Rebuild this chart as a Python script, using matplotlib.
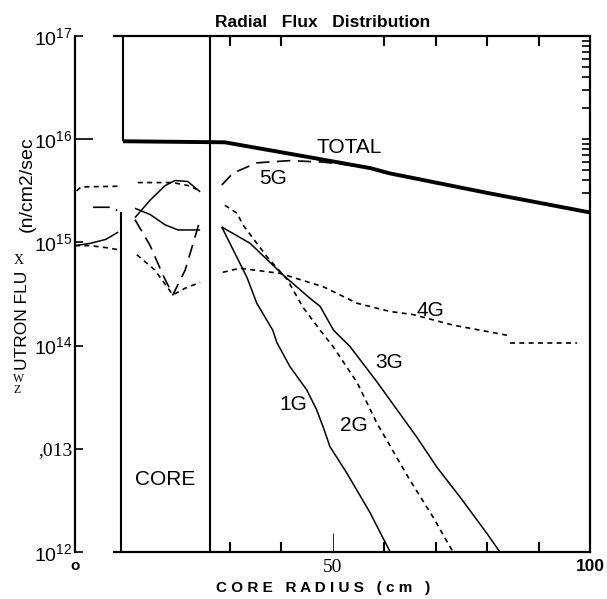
import matplotlib
matplotlib.use("Agg")
import matplotlib.pyplot as plt

plt.rcParams["font.family"] = ["Liberation Sans", "DejaVu Sans"]
plt.rcParams["mathtext.fontset"] = "custom"
plt.rcParams["mathtext.rm"] = "Liberation Sans"

# ---------------------------------------------------------------------
# Data (radius in cm, flux in n/cm2/sec)
# ---------------------------------------------------------------------
total_x = [9.3, 29.1, 45.0, 57.3, 61.0, 80.0, 100.0]
total_y = [9.55e15, 9.33e15, 6.76e15, 5.25e15, 4.68e15, 3.02e15, 1.95e15]

g5_x = [28.5, 30.7, 35.3, 41.7, 48.2, 53.4, 57.3]
g5_y = [3.6e15, 4.7e15, 5.9e15, 6.2e15, 6.0e15, 5.6e15, 5.25e15]

g4_x = [28.7, 32.0, 39.8, 48.2, 54.8, 61.2, 65.6, 73.4, 83.9]
g4_y = [5.13e14, 5.62e14, 5.01e14, 3.72e14, 2.57e14, 2.14e14, 2.0e14, 1.58e14, 1.26e14]
g4_tail_x = [84.5, 97.5]
g4_tail_y = [1.07e14, 1.07e14]

g3_x = [28.5, 34.0, 40.5, 45.6, 47.6, 50.2, 53.4, 58.6, 66.4, 70.3, 74.8, 80.0, 82.5]
g3_y = [1.41e15, 9.8e14, 4.79e14, 2.88e14, 2.4e14, 1.41e14, 9.8e13, 4.47e13,
        1.29e13, 6.6e12, 3.39e12, 1.51e12, 1.0e12]

g2_x = [29.1, 31.5, 32.6, 37.3, 41.2, 44.3, 47.6, 50.1, 54.8, 58.6, 65.0, 69.5, 73.4]
g2_y = [2.29e15, 1.91e15, 1.48e15, 7.24e14, 4.37e14, 2.34e14, 1.41e14, 9.8e13,
        4.37e13, 1.78e13, 5.0e12, 2.19e12, 1.0e12]

g1_x = [28.5, 32.0, 33.4, 35.3, 38.4, 39.2, 41.7, 45.0, 46.9, 48.2, 49.5, 52.8, 57.3, 61.2]
g1_y = [1.41e15, 6.3e14, 4.57e14, 2.57e14, 1.41e14, 1.07e14, 6.3e13, 3.72e13,
        2.4e13, 1.62e13, 1.05e13, 5.8e12, 2.4e12, 1.0e12]

# inner region (0 - 9 cm)
in_dot_x = [0.3, 1.2, 8.4]
in_dot_y = [3.16e15, 3.45e15, 3.5e15]
in_dashdot_x = [3.5, 6.8, 8.2]
in_dashdot_y = [2.19e15, 2.19e15, 2.04e15]
in_solid_x = [0.0, 3.0, 6.0, 8.4]
in_solid_y = [9.3e14, 9.8e14, 1.07e15, 1.26e15]
in_dash_x = [0.0, 3.0, 6.0, 8.4]
in_dash_y = [9.3e14, 9.3e14, 8.9e14, 8.5e14]

# core region (11.5 - 24.5 cm)
c_dot_top_x = [12.2, 19.0, 22.0, 24.3]
c_dot_top_y = [3.8e15, 3.8e15, 3.55e15, 3.16e15]
c_solid_a_x = [11.65, 14.6, 17.5, 19.4, 21.9, 24.3]
c_solid_a_y = [1.74e15, 2.57e15, 3.55e15, 3.98e15, 3.89e15, 3.09e15]
c_solid_b_x = [11.65, 14.6, 17.5, 20.0, 24.3]
c_solid_b_y = [2.14e15, 1.86e15, 1.48e15, 1.32e15, 1.32e15]
c_vdash_x = [11.65, 14.6, 17.1, 19.0, 21.4, 24.3]
c_vdash_y = [1.66e15, 9.3e14, 4.8e14, 3.1e14, 5.4e14, 1.66e15]
c_dot_low_x = [12.0, 15.5, 19.0, 21.4, 24.3]
c_dot_low_y = [7.6e14, 5.4e14, 3.1e14, 3.6e14, 4.1e14]

# boundaries
box_x = 9.3
inner_edge_x = 8.9
inner_edge_top = 1.95e15
core_edge_x = 26.2

y_ticks = [1e12, 1e13, 1e14, 1e15, 1e16, 1e17]
y_tick_labels = [r"$\mathregular{10^{12}}$", ",013", r"$\mathregular{10^{14}}$",
                 r"$\mathregular{10^{15}}$", r"$\mathregular{10^{16}}$",
                 r"$\mathregular{10^{17}}$"]
x_ticks = [0, 50, 100]
x_tick_labels = ["o", "50", "100"]
x_minor = [30, 40, 60, 70, 80, 90]

curve_labels = [("TOTAL", 53.2, 8.3e15), ("5G", 38.4, 4.2e15), ("4G", 69.1, 2.2e14),
                ("3G", 61.0, 6.8e13), ("2G", 54.2, 1.7e13), ("1G", 42.3, 2.7e13),
                ("CORE", 17.5, 5.0e12)]

# ---------------------------------------------------------------------
fig = plt.figure(figsize=(6.07, 5.99), dpi=100)
ax = fig.add_axes([75 / 607, 1 - 552 / 599, 515 / 607, 516 / 599])
ax.set_yscale("log")
ax.set_xlim(0, 100)
ax.set_ylim(1e12, 1e17)

solid = dict(color="black", lw=1.1, solid_capstyle="butt")
longdash = dict(color="black", lw=1.2, linestyle=(0, (8, 4.5)))
shortdash = dict(color="black", lw=1.2, linestyle=(0, (3, 2.6)))

ax.plot(total_x, total_y, color="black", lw=2.8, solid_capstyle="butt")
ax.plot(g5_x, g5_y, **longdash)
ax.plot(g4_x, g4_y, **shortdash)
ax.plot(g4_tail_x, g4_tail_y, **shortdash)
ax.plot(g3_x, g3_y, **solid)
ax.plot(g2_x, g2_y, **shortdash)
ax.plot(g1_x, g1_y, **solid)

ax.plot(in_dot_x, in_dot_y, **shortdash)
ax.plot(in_dashdot_x, in_dashdot_y, color="black", lw=1.2, linestyle=(0, (10, 4, 1.5, 4)))
ax.plot(in_solid_x, in_solid_y, **solid)
ax.plot(in_dash_x, in_dash_y, **shortdash)

ax.plot(c_dot_top_x, c_dot_top_y, **shortdash)
ax.plot(c_solid_a_x, c_solid_a_y, **solid)
ax.plot(c_solid_b_x, c_solid_b_y, **solid)
ax.plot(c_vdash_x, c_vdash_y, **longdash)
ax.plot(c_dot_low_x, c_dot_low_y, **shortdash)

ax.vlines(box_x, total_y[0], 1e17, color="black", lw=1.5)
ax.vlines(inner_edge_x, 1e12, inner_edge_top, color="black", lw=1.5)
ax.vlines(core_edge_x, 1e12, 1e17, color="black", lw=1.5)

for text, x, y in curve_labels:
    ax.text(x, y, text, fontsize=15, ha="center", va="center")

# frame
for side in ["top", "bottom", "left", "right"]:
    ax.spines[side].set_linewidth(1.6)
ax.spines["top"].set_bounds(7.6, 100)
ax.spines["bottom"].set_bounds(7.6, 100)

ax.set_xticks(x_ticks)
ax.set_xticklabels(x_tick_labels)
ax.set_xticks(x_minor, minor=True)
ax.tick_params(axis="x", which="major", direction="in", length=0, pad=5)
ax.tick_params(axis="x", which="minor", direction="in", length=7, width=1.5,
               top=True, bottom=True)
xl = ax.get_xticklabels()
xl[0].set_fontsize(11)
xl[0].set_fontweight("bold")
xl[1].set_fontfamily("Liberation Serif")
xl[1].set_fontsize(14)
xl[2].set_fontweight("bold")
xl[2].set_fontsize(12.5)
t50 = ax.xaxis.get_major_ticks()[1]
t50.tick1line.set_markersize(14)
t50.tick1line.set_markeredgewidth(0.6)
t50.tick1line.set_color("0.55")

ax.set_yticks(y_ticks)
ax.set_yticklabels(y_tick_labels)
ax.yaxis.remove_overlapping_locs = False
ax.yaxis.set_minor_locator(matplotlib.ticker.FixedLocator(
    [m * 10 ** e for e in (15, 16) for m in range(2, 11)]))
ax.yaxis.set_minor_formatter(matplotlib.ticker.NullFormatter())
ax.tick_params(axis="y", which="major", direction="in", length=6, width=1.2,
               labelsize=14, pad=2, right=False)
ax.tick_params(axis="y", which="minor", direction="in", length=6, width=1.2,
               left=False, right=True)
yl = ax.get_yticklabels()
yl[1].set_fontfamily("Liberation Serif")
t16 = ax.yaxis.get_major_ticks()[4]
t16.tick1line.set_markersize(13)

# titles / axis labels
fig.text(0.532, 0.962, "Radial   Flux   Distribution", fontsize=12.5,
         fontweight="bold", ha="center", va="center")
fig.text(0.532, 0.018, "C O R E   R A D I U S   ( c m   )", fontsize=11,
         fontweight="bold", ha="center", va="center")

fig.text(27 / 607, 1 - 184 / 599, "(n/cm2/sec", fontsize=14, rotation=90,
         ha="center", va="center")
fig.text(23 / 607, 1 - 320 / 599, "UTRON FLU", fontsize=12.5, rotation=90,
         ha="center", va="center")
fig.text(19 / 607, 1 - 260 / 599, "X", fontsize=10, family="Liberation Serif",
         ha="center", va="center")
fig.text(19 / 607, 1 - 379 / 599, "W", fontsize=8.5, family="Liberation Serif",
         ha="center", va="center")
fig.text(17 / 607, 1 - 390 / 599, "Z", fontsize=8.5, family="Liberation Serif",
         ha="center", va="center")

fig.savefig("out.png", dpi=100)
